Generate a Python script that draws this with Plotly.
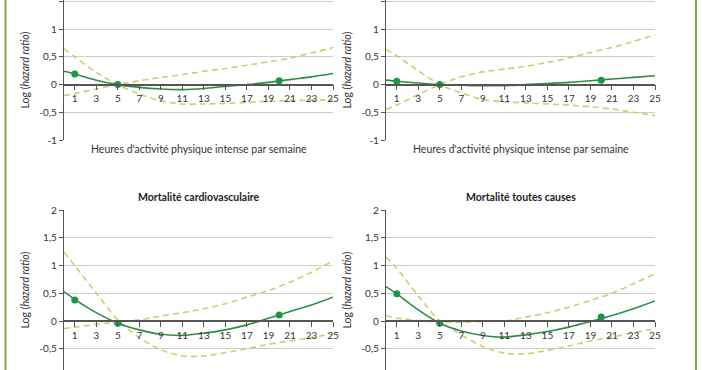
import plotly.graph_objects as go

W, H = 702, 370

# ---------------- data ----------------
x_grid = [0, 1, 3, 5, 7, 9, 11, 13, 15, 17, 19, 21, 23, 25]
marker_x = [1, 5, 20]

# Panel A (top-left, title cropped)
a_est = [0.24, 0.19, 0.08, 0.0, -0.05, -0.08, -0.09, -0.07, -0.03, 0.0, 0.04, 0.09, 0.14, 0.2]
a_lo = [0.65, 0.5, 0.22, 0.0, -0.17, -0.29, -0.35, -0.35, -0.34, -0.32, -0.3, -0.29, -0.28, -0.28]
a_hi = [-0.2, -0.16, -0.08, 0.0, 0.07, 0.13, 0.18, 0.24, 0.29, 0.35, 0.41, 0.48, 0.57, 0.67]
a_mk = [0.19, 0.0, 0.07]

# Panel B (top-right, title cropped)
b_est = [0.08, 0.06, 0.03, 0.0, -0.01, -0.02, -0.02, 0.0, 0.02, 0.04, 0.07, 0.1, 0.13, 0.16]
b_lo = [0.63, 0.52, 0.25, 0.0, -0.15, -0.27, -0.31, -0.33, -0.35, -0.37, -0.4, -0.44, -0.5, -0.56]
b_hi = [-0.45, -0.37, -0.18, 0.0, 0.14, 0.23, 0.28, 0.33, 0.4, 0.48, 0.58, 0.67, 0.78, 0.9]
b_mk = [0.06, 0.0, 0.08]

# Mortalité cardiovasculaire
c_est = [0.53, 0.39, 0.15, -0.04, -0.16, -0.24, -0.26, -0.22, -0.16, -0.07, 0.05, 0.17, 0.29, 0.43]
c_lo = [1.24, 1.0, 0.5, 0.02, -0.3, -0.52, -0.63, -0.63, -0.57, -0.5, -0.42, -0.36, -0.3, -0.23]
c_hi = [-0.14, -0.11, -0.06, -0.02, 0.02, 0.09, 0.15, 0.22, 0.31, 0.43, 0.55, 0.7, 0.88, 1.08]
c_mk = [0.38, -0.04, 0.11]

# Mortalité toutes causes
d_est = [0.62, 0.49, 0.2, -0.04, -0.18, -0.26, -0.29, -0.25, -0.19, -0.11, -0.01, 0.1, 0.22, 0.36]
d_lo = [1.15, 0.95, 0.45, 0.0, -0.25, -0.46, -0.58, -0.59, -0.53, -0.45, -0.36, -0.29, -0.21, -0.14]
d_hi = [0.1, 0.05, 0.01, -0.02, -0.02, -0.01, 0.0, 0.07, 0.15, 0.25, 0.37, 0.5, 0.67, 0.85]
d_mk = [0.49, -0.04, 0.07]

titles = ["", "", "Mortalité cardiovasculaire", "Mortalité toutes causes"]
x_title = "Heures d'activité physique intense par semaine"
y_title = "Log (<i>hazard ratio</i>)"
x_ticks = [1, 3, 5, 7, 9, 11, 13, 15, 17, 19, 21, 23, 25]
y_vals = [-1, -0.5, 0, 0.5, 1, 1.5, 2]
y_text = ["-1", "-0,5", "0", "0,5", "1", "1,5", "2"]

# ---------------- layout ----------------
GREEN = "#2f8c47"
MARK = "#1f9447"
CI = "#c9d070"
AX = "#555555"
GRID = "#cccccc"
FONT = "Lato"

def px_x(p):
    return p / W

def px_y(p):
    return 1 - p / H

panels = [
    dict(est=a_est, lo=a_lo, hi=a_hi, mk=a_mk, xd=(64, 333), yd=(0, 140), yr=(-1, 1.527)),
    dict(est=b_est, lo=b_lo, hi=b_hi, mk=b_mk, xd=(386, 655), yd=(0, 140), yr=(-1, 1.527)),
    dict(est=c_est, lo=c_lo, hi=c_hi, mk=c_mk, xd=(64, 333), yd=(210, 370), yr=(-0.883, 2.0)),
    dict(est=d_est, lo=d_lo, hi=d_hi, mk=d_mk, xd=(386, 655), yd=(210, 370), yr=(-0.883, 2.0)),
]

fig = go.Figure()
layout = dict(
    width=W, height=H, margin=dict(l=0, r=0, t=0, b=0, pad=0, autoexpand=False),
    paper_bgcolor="white", plot_bgcolor="white", showlegend=False,
    font=dict(family=FONT, size=9, color="#333333"),
)
annotations = []
shapes = []

for i, p in enumerate(panels):
    n = "" if i == 0 else str(i + 1)
    xa, ya = "x" + n, "y" + n
    xdom = [px_x(p["xd"][0]), px_x(p["xd"][1])]
    ydom = [px_y(p["yd"][1]), px_y(p["yd"][0])]
    r0, r1 = p["yr"]
    zero_pos = ydom[0] + (0 - r0) / (r1 - r0) * (ydom[1] - ydom[0])

    for arr in (p["lo"], p["hi"]):
        fig.add_trace(go.Scatter(x=x_grid, y=arr, mode="lines", line=dict(color=CI, width=1.6, dash="6px,4px", shape="spline", smoothing=0.8),
                                 xaxis=xa, yaxis=ya, hoverinfo="skip"))
    fig.add_trace(go.Scatter(x=x_grid, y=p["est"], mode="lines", line=dict(color=GREEN, width=1.6, shape="spline", smoothing=0.8),
                             xaxis=xa, yaxis=ya, hoverinfo="skip"))
    fig.add_trace(go.Scatter(x=marker_x, y=p["mk"], mode="markers", marker=dict(color=MARK, size=7),
                             xaxis=xa, yaxis=ya, hoverinfo="skip"))

    vals = [v for v, t in zip(y_vals, y_text) if r0 - 1e-6 <= v <= r1 + 1e-6]
    txts = [t for v, t in zip(y_vals, y_text) if r0 - 1e-6 <= v <= r1 + 1e-6]

    layout["xaxis" + n] = dict(
        domain=xdom, range=[0, 25], anchor="free", position=zero_pos, automargin=False,
        showline=True, linecolor=AX, linewidth=1.5, showgrid=False, zeroline=False,
        tickvals=x_ticks, ticks="outside", ticklen=5, tickcolor=AX, tickwidth=1,
        tickfont=dict(family=FONT, size=10, color="#333333"),
    )
    layout["yaxis" + n] = dict(
        domain=ydom, range=[r0, r1], anchor=xa, automargin=False,
        showline=True, linecolor=AX, linewidth=1.2,
        tickvals=vals, ticktext=txts, ticks="outside", ticklen=4, tickcolor=AX,
        showgrid=True, gridcolor=GRID, gridwidth=1, zeroline=False,
        tickfont=dict(family=FONT, size=10, color="#333333"),
        title=dict(text=y_title, font=dict(family=FONT, size=10.5, color="#333333"), standoff=7),
    )
    if titles[i]:
        annotations.append(dict(text="<b>" + titles[i] + "</b>", xref="paper", yref="paper",
                                x=(xdom[0] + xdom[1]) / 2, y=px_y(197), showarrow=False,
                                font=dict(family=FONT, size=10.5, color="#222222"), xanchor="center", yanchor="middle"))
    if p["yd"][0] == 0:
        annotations.append(dict(text=x_title, xref="paper", yref="paper",
                                x=(xdom[0] + xdom[1]) / 2, y=px_y(149), showarrow=False,
                                font=dict(family=FONT, size=10.5, color="#333333"), xanchor="center", yanchor="middle"))

# green frame lines at the page edges
for xp in (5.5, 696):
    shapes.append(dict(type="line", xref="paper", yref="paper", x0=px_x(xp), x1=px_x(xp), y0=0, y1=1,
                       line=dict(color="#7aa94a", width=2)))

layout["annotations"] = annotations
layout["shapes"] = shapes
fig.update_layout(**layout)
fig.write_html("out.html", config={"displayModeBar": False},
               post_script="document.documentElement.style.margin='0';document.body.style.margin='0';document.body.style.overflow='hidden';")
